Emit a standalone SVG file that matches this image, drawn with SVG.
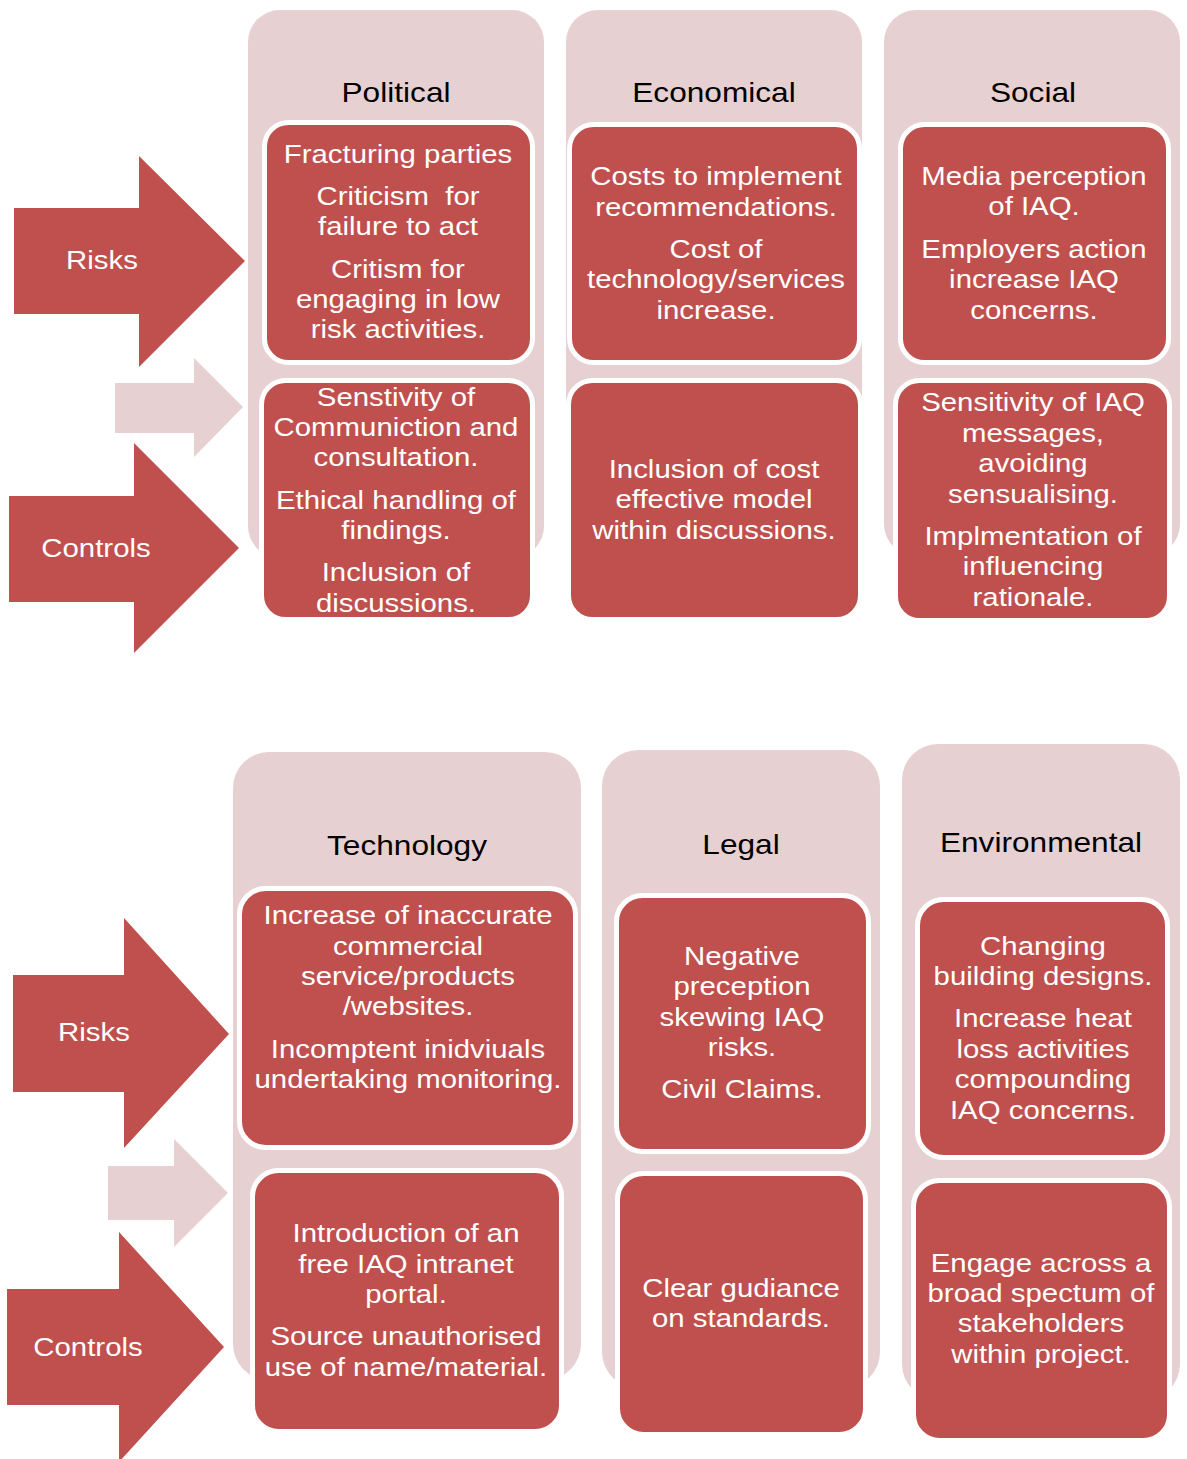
<svg xmlns="http://www.w3.org/2000/svg" width="1187" height="1459" viewBox="0 0 1187 1459">
<style>
.panel{fill:#E7D0D1}
.box{fill:#C0504D;stroke:#FFFFFF;stroke-width:5}
.arrow{fill:#C0504D}
.pale{fill:#E7D0D1}
text{font-family:"Liberation Sans",Arial,sans-serif;text-anchor:middle}
.t{fill:#FFFFFF;font-size:26px}
.h{fill:#000000;font-size:28px}
.pre{white-space:pre}
</style>
<rect width="1187" height="1459" fill="#FFFFFF"/>
<g id="connectors">
<polygon class="pale" points="115,383 194,383 194,358 243,407 194,457 194,433 115,433"/>
<polygon class="pale" points="108,1166 174,1166 174,1139 228,1193 174,1247 174,1220 108,1220"/>
</g>
<g id="risks-top">
<polygon class="arrow" points="14,208 139,208 139,156 245,261 139,367 139,314 14,314"/>
<text class="t" transform="translate(102 269) scale(1.13 1)">Risks</text>
</g>
<g id="controls-top">
<polygon class="arrow" points="9,496 134,496 134,443 239,548 134,653 134,602 9,602"/>
<text class="t" transform="translate(96 557) scale(1.13 1)">Controls</text>
</g>
<g id="risks-bottom">
<polygon class="arrow" points="13,975 124,975 124,918 229,1034 124,1148 124,1092 13,1092"/>
<text class="t" transform="translate(94 1041) scale(1.13 1)">Risks</text>
</g>
<g id="controls-bottom">
<polygon class="arrow" points="7,1289 119,1289 119,1232 224,1347 119,1462 119,1405 7,1405"/>
<text class="t" transform="translate(88 1356) scale(1.13 1)">Controls</text>
</g>

<g id="political">
<rect class="panel" x="248" y="10" width="296" height="548" rx="32"/>
<text class="h" transform="translate(396 102) scale(1.13 1)">Political</text>
</g>
<g id="economical">
<rect class="panel" x="566" y="10" width="296" height="548" rx="32"/>
<text class="h" transform="translate(714 102) scale(1.13 1)">Economical</text>
</g>
<g id="social">
<rect class="panel" x="884" y="10" width="296" height="546" rx="32"/>
<text class="h" transform="translate(1033 102) scale(1.13 1)">Social</text>
</g>
<g id="technology">
<rect class="panel" x="233" y="752" width="348" height="628" rx="36"/>
<text class="h" transform="translate(407 855) scale(1.13 1)">Technology</text>
</g>
<g id="legal">
<rect class="panel" x="602" y="750" width="278" height="638" rx="36"/>
<text class="h" transform="translate(741 854) scale(1.13 1)">Legal</text>
</g>
<g id="environmental">
<rect class="panel" x="902" y="744" width="278" height="656" rx="36"/>
<text class="h" transform="translate(1041 852) scale(1.13 1)">Environmental</text>
</g>

<g id="political-risks">
<rect class="box" x="264.5" y="122.5" width="268" height="240" rx="24"/>
<text class="t" transform="translate(398 163) scale(1.13 1)">Fracturing parties</text>
<text class="t pre" transform="translate(398 205) scale(1.13 1)">Criticism  for</text>
<text class="t" transform="translate(398 235) scale(1.13 1)">failure to act</text>
<text class="t" transform="translate(398 278) scale(1.13 1)">Critism for</text>
<text class="t" transform="translate(398 308) scale(1.13 1)">engaging in low</text>
<text class="t" transform="translate(398 338) scale(1.13 1)">risk activities.</text>
</g>
<g id="economical-risks">
<rect class="box" x="569.5" y="124.5" width="290" height="238" rx="24"/>
<text class="t" transform="translate(716 185) scale(1.13 1)">Costs to implement</text>
<text class="t" transform="translate(716 216) scale(1.13 1)">recommendations.</text>
<text class="t" transform="translate(716 258) scale(1.13 1)">Cost of</text>
<text class="t" transform="translate(716 288) scale(1.13 1)">technology/services</text>
<text class="t" transform="translate(716 319) scale(1.13 1)">increase.</text>
</g>
<g id="social-risks">
<rect class="box" x="900.5" y="124.5" width="268" height="238" rx="24"/>
<text class="t" transform="translate(1034 185) scale(1.13 1)">Media perception</text>
<text class="t" transform="translate(1034 215) scale(1.13 1)">of IAQ.</text>
<text class="t" transform="translate(1034 258) scale(1.13 1)">Employers action</text>
<text class="t" transform="translate(1034 288) scale(1.13 1)">increase IAQ</text>
<text class="t" transform="translate(1034 319) scale(1.13 1)">concerns.</text>
</g>
<g id="political-controls">
<rect class="box" x="261.5" y="380.5" width="271" height="239" rx="24"/>
<text class="t" transform="translate(396 406) scale(1.13 1)">Senstivity of</text>
<text class="t" transform="translate(396 436) scale(1.13 1)">Communiction and</text>
<text class="t" transform="translate(396 466) scale(1.13 1)">consultation.</text>
<text class="t" transform="translate(396 509) scale(1.13 1)">Ethical handling of</text>
<text class="t" transform="translate(396 539) scale(1.13 1)">findings.</text>
<text class="t" transform="translate(396 581) scale(1.13 1)">Inclusion of</text>
<text class="t" transform="translate(396 612) scale(1.13 1)">discussions.</text>
</g>
<g id="economical-controls">
<rect class="box" x="568.5" y="380.5" width="292" height="239" rx="24"/>
<text class="t" transform="translate(714 478) scale(1.13 1)">Inclusion of cost</text>
<text class="t" transform="translate(714 508) scale(1.13 1)">effective model</text>
<text class="t" transform="translate(714 539) scale(1.13 1)">within discussions.</text>
</g>
<g id="social-controls">
<rect class="box" x="895.5" y="380.5" width="274" height="240" rx="24"/>
<text class="t" transform="translate(1033 411) scale(1.13 1)">Sensitivity of IAQ</text>
<text class="t" transform="translate(1033 442) scale(1.13 1)">messages,</text>
<text class="t" transform="translate(1033 472) scale(1.13 1)">avoiding</text>
<text class="t" transform="translate(1033 503) scale(1.13 1)">sensualising.</text>
<text class="t" transform="translate(1033 545) scale(1.13 1)">Implmentation of</text>
<text class="t" transform="translate(1033 575) scale(1.13 1)">influencing</text>
<text class="t" transform="translate(1033 606) scale(1.13 1)">rationale.</text>
</g>

<g id="technology-risks">
<rect class="box" x="239.5" y="888.5" width="336" height="259" rx="26"/>
<text class="t" transform="translate(408 924) scale(1.13 1)">Increase of inaccurate</text>
<text class="t" transform="translate(408 955) scale(1.13 1)">commercial</text>
<text class="t" transform="translate(408 985) scale(1.13 1)">service/products</text>
<text class="t" transform="translate(408 1015) scale(1.13 1)">/websites.</text>
<text class="t" transform="translate(408 1058) scale(1.13 1)">Incomptent inidviuals</text>
<text class="t" transform="translate(408 1088) scale(1.13 1)">undertaking monitoring.</text>
</g>
<g id="legal-risks">
<rect class="box" x="616.5" y="895.5" width="252" height="256" rx="26"/>
<text class="t" transform="translate(742 965) scale(1.13 1)">Negative</text>
<text class="t" transform="translate(742 995) scale(1.13 1)">preception</text>
<text class="t" transform="translate(742 1026) scale(1.13 1)">skewing IAQ</text>
<text class="t" transform="translate(742 1056) scale(1.13 1)">risks.</text>
<text class="t" transform="translate(742 1098) scale(1.13 1)">Civil Claims.</text>
</g>
<g id="environmental-risks">
<rect class="box" x="917.5" y="899.5" width="250" height="258" rx="26"/>
<text class="t" transform="translate(1043 955) scale(1.13 1)">Changing</text>
<text class="t" transform="translate(1043 985) scale(1.13 1)">building designs.</text>
<text class="t" transform="translate(1043 1027) scale(1.13 1)">Increase heat</text>
<text class="t" transform="translate(1043 1058) scale(1.13 1)">loss activities</text>
<text class="t" transform="translate(1043 1088) scale(1.13 1)">compounding</text>
<text class="t" transform="translate(1043 1119) scale(1.13 1)">IAQ concerns.</text>
</g>
<g id="technology-controls">
<rect class="box" x="252.5" y="1170.5" width="309" height="261" rx="26"/>
<text class="t" transform="translate(406 1242) scale(1.13 1)">Introduction of an</text>
<text class="t" transform="translate(406 1273) scale(1.13 1)">free IAQ intranet</text>
<text class="t" transform="translate(406 1303) scale(1.13 1)">portal.</text>
<text class="t" transform="translate(406 1345) scale(1.13 1)">Source unauthorised</text>
<text class="t" transform="translate(406 1376) scale(1.13 1)">use of name/material.</text>
</g>
<g id="legal-controls">
<rect class="box" x="617.5" y="1173.5" width="248" height="261" rx="26"/>
<text class="t" transform="translate(741 1297) scale(1.13 1)">Clear gudiance</text>
<text class="t" transform="translate(741 1327) scale(1.13 1)">on standards.</text>
</g>
<g id="environmental-controls">
<rect class="box" x="913.5" y="1180.5" width="256" height="260" rx="26"/>
<text class="t" transform="translate(1041 1272) scale(1.13 1)">Engage across a</text>
<text class="t" transform="translate(1041 1302) scale(1.13 1)">broad spectum of</text>
<text class="t" transform="translate(1041 1332) scale(1.13 1)">stakeholders</text>
<text class="t" transform="translate(1041 1363) scale(1.13 1)">within project.</text>
</g>
</svg>
